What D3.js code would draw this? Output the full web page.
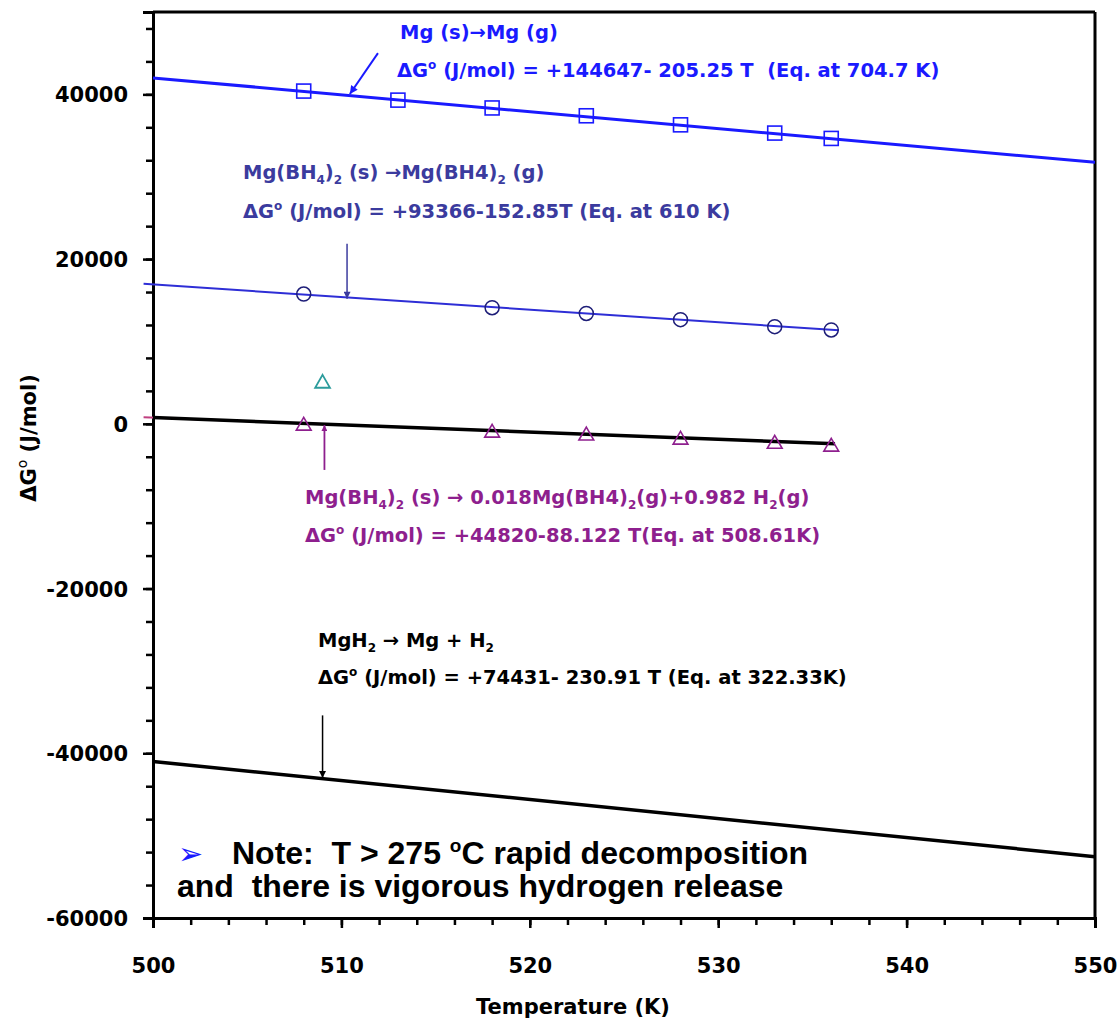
<!DOCTYPE html>
<html><head><meta charset="utf-8">
<script src="https://cdn.jsdelivr.net/npm/d3@7"></script>
<style>
body{margin:0;background:#fff;}
svg{display:block;}
</style></head>
<body>
<svg id="chart" width="1117" height="1022"></svg>
<script>
// ---------- data ----------
const xDomain = [500, 550];
const yDomain = [-60000, 50000];
const xMajorTicks = [500, 510, 520, 530, 540, 550];
const yMajorTicks = [-60000, -40000, -20000, 0, 20000, 40000];

// Mg(s) -> Mg(g)
const mgT = [508, 513, 518, 523, 528, 533, 536];
const mgG = [40400, 39300, 38350, 37400, 36300, 35300, 34650];
const mgFitT = [500, 550];
const mgFitG = [42000, 31750];

// Mg(BH4)2(s) -> Mg(BH4)2(g)
const gasT = [508, 518, 523, 528, 533, 536];
const gasG = [15750, 14100, 13400, 12650, 11800, 11400];
const gasFitT = [499.5, 536.4];
const gasFitG = [17000, 11350];

// Mg(BH4)2(s) -> 0.018Mg(BH4)2(g)+0.982H2(g)
const decT = [508, 518, 523, 528, 533, 536];
const decG = [-250, -1100, -1450, -1950, -2450, -2800];
const decFitT = [499.5, 536.2];
const decFitG = [800, -2420];
const decAxisG = [760];
const extraT = [509];
const extraG = [4900];

// MgH2 -> Mg + H2
const hydFitT = [500, 550];
const hydFitG = [-41000, -52550];

// ---------- layout ----------
const svg = d3.select("#chart");
const x = d3.scaleLinear().domain(xDomain).range([153, 1095]);
const y = d3.scaleLinear().domain(yDomain).range([918, 12]);

const C = {
  mg: "#1a1aff",
  gasLine: "#2e2ed6",
  gasMark: "#1e1e78",
  gasText: "#3b3b9e",
  dec: "#8e1f8e",
  teal: "#2c9c9c",
  black: "#000"
};

const defs = svg.append("defs");
function arrowMarker(id, color, w, h) {
  defs.append("marker").attr("id", id)
    .attr("viewBox", "0 0 10 10").attr("refX", 10).attr("refY", 5)
    .attr("markerUnits", "userSpaceOnUse")
    .attr("markerWidth", w).attr("markerHeight", h)
    .attr("orient", "auto")
    .append("path").attr("d", "M0,0 L10,5 L0,10 z").attr("fill", color);
}
arrowMarker("arMg", C.mg, 10, 8);
arrowMarker("arGas", C.gasText, 9, 7);
arrowMarker("arDec", C.dec, 6, 6);
arrowMarker("arBlk", "#000", 9, 7);

// ---------- axes ----------
const tickFont = "'DejaVu Sans', sans-serif";
const fmt = d => String(d);
const gx = svg.append("g").attr("transform", `translate(0,${y(-60000)})`);
gx.call(d3.axisBottom(x).tickValues(d3.range(500, 551, 2)).tickSize(7).tickFormat(""));
gx.call(g => g.append("g").call(d3.axisBottom(x).tickValues(xMajorTicks).tickSize(10).tickFormat(fmt)));
const gy = svg.append("g").attr("transform", `translate(${x(500)},0)`);
gy.call(d3.axisLeft(y).tickValues(d3.range(-60000, 50001, 4000)).tickSize(7).tickFormat(""));
gy.call(g => g.append("g").call(d3.axisLeft(y).tickValues(yMajorTicks).tickSize(10).tickFormat(fmt)));

svg.selectAll(".domain").attr("stroke", "#000").attr("stroke-width", 3);
svg.selectAll(".tick line").attr("stroke", "#000").attr("stroke-width", 2.5);
gx.selectAll("text").attr("font-family", tickFont).attr("font-weight", "bold")
  .attr("font-size", 21).attr("fill", "#000").attr("dy", null).attr("y", 0)
  .attr("transform", "translate(0,55)");
gy.selectAll("text").attr("font-family", tickFont).attr("font-weight", "bold")
  .attr("font-size", 21).attr("fill", "#000").attr("x", -25).attr("dy", "0.36em");

// frame top/right
svg.append("line").attr("x1", x(500)).attr("x2", x(550)).attr("y1", y(50000)).attr("y2", y(50000))
  .attr("stroke", "#000").attr("stroke-width", 3);
svg.append("line").attr("x1", x(550)).attr("x2", x(550)).attr("y1", y(50000)).attr("y2", y(-60000))
  .attr("stroke", "#000").attr("stroke-width", 3);

// axis titles
svg.append("text").attr("x", 573).attr("y", 1014).attr("text-anchor", "middle")
  .attr("font-family", tickFont).attr("font-weight", "bold").attr("font-size", 21)
  .text("Temperature (K)");
const yt = svg.append("text").attr("transform", "translate(36,438) rotate(-90)")
  .attr("text-anchor", "middle")
  .attr("font-family", tickFont).attr("font-weight", "bold").attr("font-size", 21);
yt.append("tspan").text("ΔG");
yt.append("tspan").attr("dy", -9).attr("font-size", 14).attr("font-weight", "normal").text("o");
yt.append("tspan").attr("dy", 9).text(" (J/mol)");

// ---------- lines ----------
const line = d3.line().x(d => x(d[0])).y(d => y(d[1]));
function fit(T, G) { return T.map((t, i) => [t, G[i]]); }

svg.append("path").datum(fit(decFitT, decFitG)).attr("d", line)
  .attr("fill", "none").attr("stroke", "#c04080").attr("stroke-width", 2);
svg.append("path").datum(fit([500, decFitT[1]], [decAxisG[0], decFitG[1]])).attr("d", line)
  .attr("fill", "none").attr("stroke", C.black).attr("stroke-width", 3.5);
svg.append("path").datum(fit(mgFitT, mgFitG)).attr("d", line)
  .attr("fill", "none").attr("stroke", C.mg).attr("stroke-width", 3);
svg.append("path").datum(fit(gasFitT, gasFitG)).attr("d", line)
  .attr("fill", "none").attr("stroke", C.gasLine).attr("stroke-width", 2);
svg.append("path").datum(fit(hydFitT, hydFitG)).attr("d", line)
  .attr("fill", "none").attr("stroke", C.black).attr("stroke-width", 3.5);

// ---------- markers ----------
svg.append("g").selectAll("rect").data(fit(mgT, mgG)).join("rect")
  .attr("x", d => x(d[0]) - 7).attr("y", d => y(d[1]) - 7)
  .attr("width", 14).attr("height", 14)
  .attr("fill", "none").attr("stroke", C.mg).attr("stroke-width", 1.6);
svg.append("g").selectAll("circle").data(fit(gasT, gasG)).join("circle")
  .attr("cx", d => x(d[0])).attr("cy", d => y(d[1])).attr("r", 7)
  .attr("fill", "none").attr("stroke", C.gasMark).attr("stroke-width", 1.5);
const tri = d3.symbol().type(d3.symbolTriangle).size(95);
svg.append("g").selectAll("path").data(fit(decT, decG)).join("path")
  .attr("transform", d => `translate(${x(d[0])},${y(d[1])})`).attr("d", tri)
  .attr("fill", "none").attr("stroke", C.dec).attr("stroke-width", 1.6);
svg.append("g").selectAll("path").data(fit(extraT, extraG)).join("path")
  .attr("transform", d => `translate(${x(d[0])},${y(d[1])})`).attr("d", tri)
  .attr("fill", "none").attr("stroke", C.teal).attr("stroke-width", 1.8);

// ---------- arrows ----------
function arrow(t1, g1, t2, g2, color, mk, w) {
  svg.append("line").attr("x1", x(t1)).attr("y1", y(g1)).attr("x2", x(t2)).attr("y2", y(g2))
    .attr("stroke", color).attr("stroke-width", w).attr("marker-end", `url(#${mk})`);
}
arrow(511.94, 45000, 510.45, 40050, C.mg, "arMg", 2);
arrow(510.3, 21850, 510.3, 15200, C.gasText, "arGas", 1.5);
arrow(509.1, -5600, 509.1, -150, C.dec, "arDec", 1.8);
arrow(509.0, -35400, 509.0, -43000, "#000", "arBlk", 1.5);

// ---------- annotations ----------
const annFont = "'DejaVu Sans', sans-serif";
function label(px, py, color, parts) {
  const t = svg.append("text").attr("x", px).attr("y", py)
    .attr("font-family", annFont).attr("font-weight", "bold").attr("font-size", 19.5)
    .attr("fill", color).attr("xml:space", "preserve").style("white-space", "pre");
  let shift = 0;
  parts.forEach(p => {
    let txt, target, size = null;
    if (typeof p === "string") { txt = p; target = 0; }
    else if (p.sub) { txt = p.sub; target = 5; size = 12; }
    else { txt = p.sup; target = -8; size = 12; }
    const ts = t.append("tspan").attr("dy", target - shift).text(txt);
    if (size) ts.attr("font-size", size);
    shift = target;
  });
}
label(400, 39, C.mg, ["Mg (s)→Mg (g)"]);
label(397, 77, C.mg, ["ΔG", {sup: "o"}, " (J/mol) = +144647- 205.25 T  (Eq. at 704.7 K)"]);
label(243, 179, C.gasText, ["Mg(BH", {sub: "4"}, ")", {sub: "2"}, " (s) →Mg(BH4)", {sub: "2"}, " (g)"]);
label(243, 218, C.gasText, ["ΔG", {sup: "o"}, " (J/mol) = +93366-152.85T (Eq. at 610 K)"]);
label(305, 504, C.dec, ["Mg(BH", {sub: "4"}, ")", {sub: "2"}, " (s) → 0.018Mg(BH4)", {sub: "2"}, "(g)+0.982 H", {sub: "2"}, "(g)"]);
label(305, 542, C.dec, ["ΔG", {sup: "o"}, " (J/mol) = +44820-88.122 T(Eq. at 508.61K)"]);
label(318, 647, "#000", ["MgH", {sub: "2"}, " → Mg + H", {sub: "2"}]);
label(318, 684, "#000", ["ΔG", {sup: "o"}, " (J/mol) = +74431- 230.91 T (Eq. at 322.33K)"]);

// note
svg.append("text").attr("x", 178).attr("y", 864).attr("font-family", "'DejaVu Sans', sans-serif")
  .attr("font-size", 30).attr("fill", "#1a1aff").text("➢");
const n1 = svg.append("text").attr("x", 232).attr("y", 864)
  .attr("font-family", "'Liberation Sans', Arial, sans-serif").attr("font-weight", "bold").attr("font-size", 32)
  .attr("xml:space", "preserve").style("white-space", "pre");
n1.append("tspan").text("Note:  T > 275 ");
n1.append("tspan").attr("dy", -12).attr("font-size", 19).text("o");
n1.append("tspan").attr("dy", 12).text("C rapid decomposition");
svg.append("text").attr("x", 177).attr("y", 897)
  .attr("font-family", "'Liberation Sans', Arial, sans-serif").attr("font-weight", "bold").attr("font-size", 32)
  .attr("xml:space", "preserve").style("white-space", "pre")
  .text("and  there is vigorous hydrogen release");
</script>
</body></html>
